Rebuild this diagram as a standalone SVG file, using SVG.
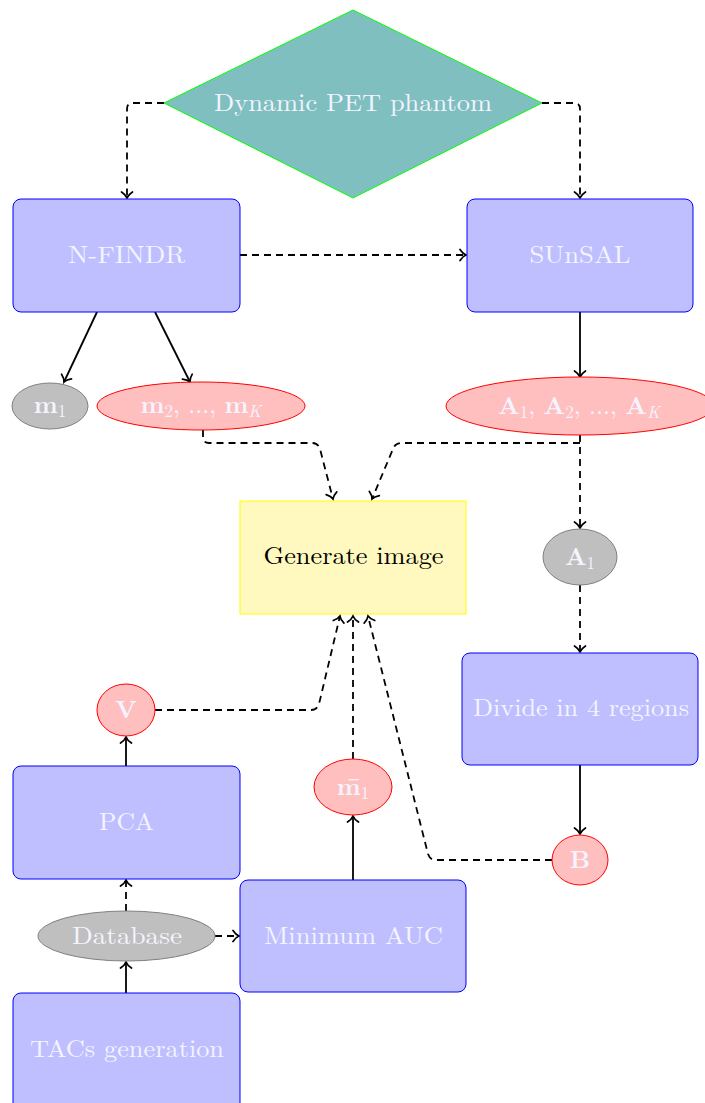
<svg xmlns="http://www.w3.org/2000/svg" width="705" height="1103" viewBox="0 0 705 1103">
<style>
.box{fill:#bfbfff;stroke:#0000ff;stroke-width:1}
.red{fill:#ffbfbf;stroke:#ff0000;stroke-width:1}
.gray{fill:#bfbfbf;stroke:#808080;stroke-width:1}
.t{font-family:"Latin Modern Roman","Liberation Serif",serif;font-size:24px;fill:#f4f4ff;text-anchor:middle}
.mt{font-size:25px}
.m{font-weight:bold}
.s{font-size:17px}
.dash{fill:none;stroke:#000;stroke-width:1.8;stroke-dasharray:7,5;marker-end:url(#to)}
.solid{fill:none;stroke:#000;stroke-width:1.8;marker-end:url(#to)}
</style>
<defs>
<marker id="to" viewBox="-8 -7 10 14" refX="0" refY="0" markerWidth="10" markerHeight="14" markerUnits="userSpaceOnUse" orient="auto">
<path d="M-6,-5.5 C-4,-2.4 -1.3,-0.5 0,0 C-1.3,0.5 -4,2.4 -6,5.5" fill="none" stroke="#000" stroke-width="1.7" stroke-linecap="round"/>
</marker>
</defs>
<rect width="705" height="1103" fill="#fff"/>
<g id="connectors">
<path class="dash" d="M164,103 L133,103 Q127,103 127,109 L127,198"/>
<path class="dash" d="M542,103 L574,103 Q580,103 580,109 L580,198"/>
<path class="dash" d="M240,255 L466,255"/>
<path class="solid" d="M97,312 L64,382"/>
<path class="solid" d="M155,312 L190,382"/>
<path class="solid" d="M580,312 L580,377"/>
<path class="dash" d="M203,430 L203,437 Q203,443 209,443 L312,443 Q318,443 320,449 L333,499"/>
<path class="dash" d="M580,443 L401,443 Q395,443 393,449 L372,499"/>
<path class="dash" d="M580,435 L580,528"/>
<path class="dash" d="M580,585 L580,652"/>
<path class="solid" d="M580,765 L580,834"/>
<path class="dash" d="M552,860 L436,860 Q430,860 428,854 L368,616"/>
<path class="dash" d="M155,710 L311,710 Q317,710 319,704 L340,616"/>
<path class="dash" d="M353,759 L353,616"/>
<path class="solid" d="M353,880 L353,816"/>
<path class="solid" d="M126,766 L126,737"/>
<path class="dash" d="M126,911 L126,880"/>
<path class="dash" d="M215,936 L239,936"/>
<path class="solid" d="M126,993 L126,962"/>
</g>
<g id="phantom">
<polygon points="353,10 542,103 353,198 164,103" fill="#80bfbf" stroke="#00ff00" stroke-width="1"/>
<text class="t" x="353" y="111" textLength="278" lengthAdjust="spacingAndGlyphs">Dynamic PET phantom</text>
</g>
<g id="nfindr">
<rect class="box" x="13" y="199" width="227" height="113" rx="8"/>
<text class="t" x="126.5" y="263" textLength="117" lengthAdjust="spacingAndGlyphs">N-FINDR</text>
</g>
<g id="sunsal">
<rect class="box" x="467" y="199" width="226" height="113" rx="8"/>
<text class="t" x="580" y="263" textLength="101" lengthAdjust="spacingAndGlyphs">SUnSAL</text>
</g>
<g id="m1">
<ellipse class="gray" cx="50" cy="406" rx="38" ry="23"/>
<text class="t mt" x="50" y="413"><tspan class="m">m</tspan><tspan class="s" dy="4">1</tspan></text>
</g>
<g id="m2mK">
<ellipse class="red" cx="201" cy="406" rx="104" ry="24"/>
<text class="t mt" x="201" y="413"><tspan class="m">m</tspan><tspan class="s" dy="4">2</tspan><tspan dy="-4">, ..., </tspan><tspan class="m">m</tspan><tspan class="s" dy="4" font-style="italic">K</tspan></text>
</g>
<g id="AK">
<ellipse class="red" cx="580" cy="406" rx="134" ry="29"/>
<text class="t mt" x="579" y="414"><tspan class="m">A</tspan><tspan class="s" dy="4">1</tspan><tspan dy="-4">, </tspan><tspan class="m">A</tspan><tspan class="s" dy="4">2</tspan><tspan dy="-4">, ..., </tspan><tspan class="m">A</tspan><tspan class="s" dy="4" font-style="italic">K</tspan></text>
</g>
<g id="generate">
<rect x="240" y="501" width="226" height="113" fill="#fff9bf" stroke="#ffff00" stroke-width="1"/>
<text class="t" x="353.5" y="564" style="fill:#000" textLength="180" lengthAdjust="spacingAndGlyphs">Generate image</text>
</g>
<g id="A1">
<ellipse class="gray" cx="580" cy="557" rx="37" ry="28"/>
<text class="t mt" x="580" y="565"><tspan class="m">A</tspan><tspan class="s" dy="4">1</tspan></text>
</g>
<g id="divide">
<rect class="box" x="462" y="653" width="236" height="112" rx="8"/>
<text class="t" x="581" y="716" textLength="216" lengthAdjust="spacingAndGlyphs">Divide in 4 regions</text>
</g>
<g id="B">
<ellipse class="red" cx="580" cy="860" rx="28" ry="25"/>
<text class="t mt m" x="580" y="868">B</text>
</g>
<g id="V">
<ellipse class="red" cx="126" cy="710" rx="29" ry="26"/>
<text class="t mt m" x="126" y="718">V</text>
</g>
<g id="mbar1">
<ellipse class="red" cx="353" cy="787" rx="39" ry="28"/>
<text class="t mt" x="353" y="795"><tspan class="m">m̄</tspan><tspan class="s" dy="4">1</tspan></text>
</g>
<g id="pca">
<rect class="box" x="13" y="766" width="227" height="113" rx="8"/>
<text class="t" x="126.5" y="830" textLength="55" lengthAdjust="spacingAndGlyphs">PCA</text>
</g>
<g id="minauc">
<rect class="box" x="240" y="880" width="226" height="112" rx="8"/>
<text class="t" x="353.5" y="944" textLength="179" lengthAdjust="spacingAndGlyphs">Minimum AUC</text>
</g>
<g id="database">
<ellipse class="gray" cx="126.5" cy="936" rx="88.5" ry="25"/>
<text class="t" x="127" y="944" textLength="110" lengthAdjust="spacingAndGlyphs">Database</text>
</g>
<g id="tacs">
<rect class="box" x="13" y="993" width="227" height="120" rx="8"/>
<text class="t" x="127" y="1057" textLength="194" lengthAdjust="spacingAndGlyphs">TACs generation</text>
</g>
</svg>
